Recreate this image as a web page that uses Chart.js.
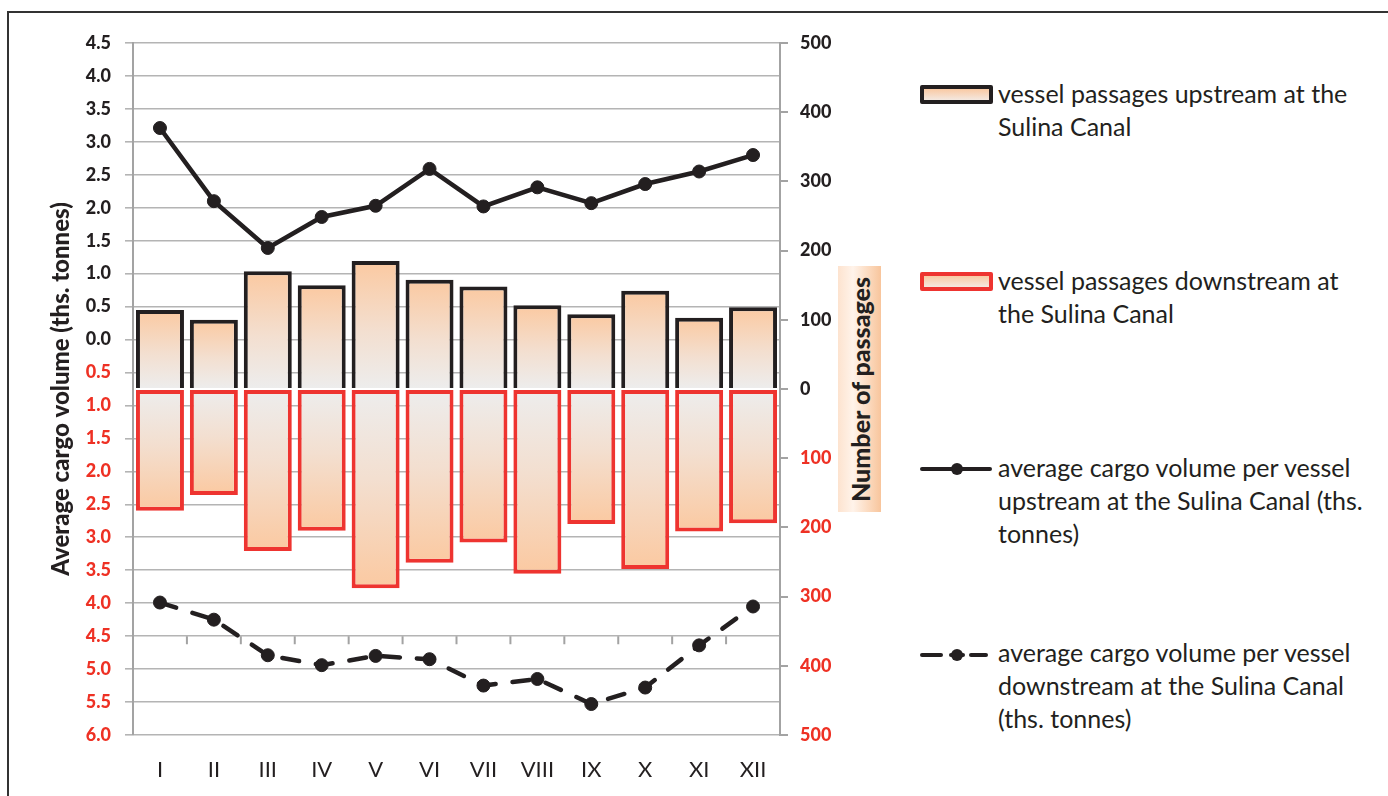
<!DOCTYPE html>
<html>
<head>
<meta charset="utf-8">
<title>Sulina Canal passages</title>
<script src="https://cdn.jsdelivr.net/npm/chart.js@4.4.1/dist/chart.umd.min.js"></script>
<style>
  html, body { margin: 0; padding: 0; background: #fff; }
  #wrap { position: relative; width: 1388px; height: 796px; overflow: hidden; font-family: Lato, sans-serif; color: #231f20; }
  #frame { position: absolute; left: 7px; top: 11px; width: 1400px; height: 800px; border-top: 2px solid #333; border-left: 2px solid #333; }
  #chartBox { position: absolute; left: 0; top: 0; width: 890px; height: 796px; }
  #rightTitle {
    position: absolute; left: 838px; top: 266px; width: 43px; height: 246px;
    background: linear-gradient(to right, #fde3cf 0%, #fff3ea 35%, #fbd7ba 75%, #f8c59c 100%);
    display: flex; align-items: center; justify-content: center;
  }
  #rightTitle span { writing-mode: vertical-rl; transform: rotate(180deg); font-weight: 900; font-size: 25px; white-space: nowrap; }
  .sw { position: absolute; left: 920px; width: 65px; height: 11px; border: 4px solid #231f20; border-radius: 2px;
        background: linear-gradient(to bottom, #f9c9a3, #f4e8e0); }
  .txt { position: absolute; left: 998px; font-size: 25px; line-height: 33px; white-space: nowrap; }
  .sym { position: absolute; left: 916px; width: 80px; height: 20px; }
</style>
</head>
<body>
<div id="wrap">
  <div id="frame"></div>
  <div id="chartBox"><canvas id="ChartSulina" width="890" height="796"></canvas></div>
  <div id="rightTitle"><span>Number of passages</span></div>

  <div class="sw" style="top:85px"></div>
  <div class="txt" style="top:77px">vessel passages upstream at the<br>Sulina Canal</div>

  <div class="sw" style="top:272px; border-color:#ee3430"></div>
  <div class="txt" style="top:264px">vessel passages downstream at<br>the Sulina Canal</div>

  <svg class="sym" style="top:459px" viewBox="0 0 80 20">
    <line x1="6" y1="10" x2="74" y2="10" stroke="#231f20" stroke-width="4" stroke-linecap="round"/>
    <circle cx="41" cy="10" r="6" fill="#231f20"/>
  </svg>
  <div class="txt" style="top:451px">average cargo volume per vessel<br>upstream at the Sulina Canal (ths.<br>tonnes)</div>

  <svg class="sym" style="top:645px" viewBox="0 0 80 20">
    <line x1="6" y1="10" x2="25" y2="10" stroke="#231f20" stroke-width="4" stroke-linecap="round"/>
    <line x1="35" y1="10" x2="47" y2="10" stroke="#231f20" stroke-width="4" stroke-linecap="round"/>
    <line x1="55" y1="10" x2="70" y2="10" stroke="#231f20" stroke-width="4" stroke-linecap="round"/>
    <circle cx="41" cy="10" r="6" fill="#231f20"/>
  </svg>
  <div class="txt" style="top:636px">average cargo volume per vessel<br>downstream at the Sulina Canal<br>(ths. tonnes)</div>
</div>

<script>
// months (roman numerals)
const months = ['I', 'II', 'III', 'IV', 'V', 'VI', 'VII', 'VIII', 'IX', 'X', 'XI', 'XII'];

// number of passages (right axis)
const passagesUp = [114, 100, 170, 150, 185, 158, 148, 121, 108, 142, 103, 118];
const passagesDown = [176, 153, 234, 205, 288, 251, 222, 267, 195, 260, 206, 194];

// average cargo per vessel, ths. tonnes (left axis)
const cargoUp = [3.21, 2.10, 1.39, 1.86, 2.03, 2.59, 2.02, 2.31, 2.07, 2.36, 2.55, 2.80];
const cargoDown = [3.99, 4.25, 4.79, 4.94, 4.80, 4.85, 5.25, 5.15, 5.53, 5.28, 4.64, 4.05];

const DARK = '#231f20';
const RED = '#ee3124';
const GRID = '#b4b4b4';
const AXIS = '#a3a3a3';
const FONT = 'Lato, sans-serif';

const canvas = document.getElementById('ChartSulina');
const ctx = canvas.getContext('2d');

const barFill = (c) => {
    const chart = c.chart;
    const y2 = chart.scales.y2;
    if (!chart.chartArea || !y2 || c.raw === undefined) return '#f7d8c0';
    const y0 = y2.getPixelForValue(0);
    const y1 = y2.getPixelForValue(c.raw);
    if (!isFinite(y0) || !isFinite(y1) || y0 === y1) return '#f7d8c0';
    const g = chart.ctx.createLinearGradient(0, y0, 0, y1);
    g.addColorStop(0, '#ededed');
    g.addColorStop(0.45, '#f3dfd0');
    g.addColorStop(1, '#fbc9a1');
    return g;
};

// small tick marks of the category axis (crossing at 4.5 downstream)
const xTicks = {
    id: 'xTicks',
    beforeDatasetsDraw(chart) {
        const { ctx, scales: { x, y } } = chart;
        const yPos = y.getPixelForValue(-4.5);
        const step = x.getPixelForValue(1) - x.getPixelForValue(0);
        ctx.save();
        ctx.strokeStyle = AXIS;
        ctx.lineWidth = 2;
        ctx.beginPath();
        for (let i = 1; i < months.length; i++) {
            const px = x.getPixelForValue(i) - step / 2;
            ctx.moveTo(px, yPos);
            ctx.lineTo(px, yPos + 8);
        }
        ctx.stroke();
        ctx.restore();
    }
};

const chartSulina = new Chart(ctx, {
    data: {
        labels: months,
        datasets: [
            {
                type: 'line',
                label: 'average cargo volume per vessel upstream at the Sulina Canal (ths. tonnes)',
                data: cargoUp,
                yAxisID: 'y',
                order: 0,
                borderColor: DARK,
                borderWidth: 4.5,
                pointRadius: 6.5,
                pointBackgroundColor: DARK,
                pointBorderColor: DARK,
                pointBorderWidth: 1,
                tension: 0
            },
            {
                type: 'line',
                label: 'average cargo volume per vessel downstream at the Sulina Canal (ths. tonnes)',
                data: cargoDown.map(v => -v),
                yAxisID: 'y',
                order: 0,
                borderColor: DARK,
                borderWidth: 4.5,
                borderDash: [17, 17],
                borderCapStyle: 'round',
                pointRadius: 6.5,
                pointBackgroundColor: DARK,
                pointBorderColor: DARK,
                pointBorderWidth: 1,
                tension: 0
            },
            {
                type: 'bar',
                label: 'vessel passages downstream at the Sulina Canal',
                data: passagesDown.map(v => -v),
                yAxisID: 'y2',
                stack: 'p',
                order: 1,
                backgroundColor: barFill,
                borderColor: '#ee3430',
                borderWidth: 4,
                borderSkipped: false,
                barPercentage: 0.89,
                categoryPercentage: 1
            },
            {
                type: 'bar',
                label: 'vessel passages upstream at the Sulina Canal',
                data: passagesUp,
                yAxisID: 'y2',
                stack: 'p',
                order: 2,
                backgroundColor: barFill,
                borderColor: DARK,
                borderWidth: 4,
                borderSkipped: 'start',
                barPercentage: 0.89,
                categoryPercentage: 1
            }
        ]
    },
    options: {
        responsive: false,
        animation: false,
        layout: { padding: { left: 46, top: 43, right: 0, bottom: 0 } },
        plugins: {
            legend: { display: false },
            tooltip: { enabled: false }
        },
        scales: {
            x: {
                type: 'category',
                stacked: true,
                grid: { display: false, drawTicks: false },
                border: { display: false },
                ticks: { color: DARK, font: { family: FONT, size: 22 }, padding: 22 },
                afterFit: (s) => { s.height = 61; }
            },
            y: {
                type: 'linear',
                position: 'left',
                min: -6,
                max: 4.5,
                grid: { color: GRID, lineWidth: 1.6, tickLength: 8 },
                border: { color: AXIS, width: 2 },
                ticks: {
                    stepSize: 0.5,
                    padding: 14,
                    font: { family: FONT, size: 18, weight: '900' },
                    color: (c) => (c.tick && c.tick.value < 0 ? RED : DARK),
                    callback: (v) => Math.abs(v).toFixed(1)
                },
                title: {
                    display: true,
                    text: 'Average cargo volume (ths. tonnes)',
                    color: DARK,
                    font: { family: FONT, size: 24, weight: '900' },
                    padding: { top: 1, bottom: 0 }
                },
                afterFit: (s) => { s.width = 87; }
            },
            y2: {
                type: 'linear',
                position: 'right',
                min: -500,
                max: 500,
                stacked: true,
                grid: { drawOnChartArea: false, color: AXIS, lineWidth: 2, tickLength: 8 },
                border: { color: AXIS, width: 2 },
                ticks: {
                    stepSize: 100,
                    padding: 12,
                    font: { family: FONT, size: 18, weight: '900' },
                    color: (c) => (c.tick && c.tick.value < 0 ? RED : DARK),
                    callback: (v) => Math.abs(v)
                },
                afterFit: (s) => { s.width = 110; }
            }
        }
    },
    plugins: [xTicks]
});
</script>
</body>
</html>
